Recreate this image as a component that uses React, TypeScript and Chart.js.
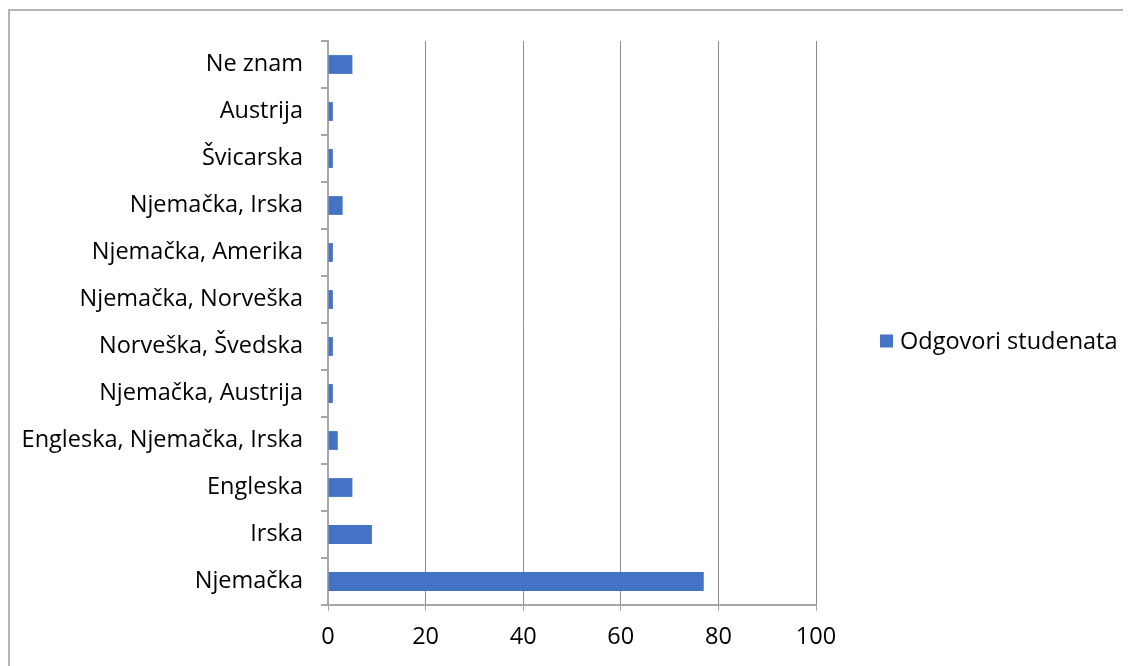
import React, { useEffect, useRef } from "react";
import { Chart, registerables } from "chart.js";

Chart.register(...registerables);

const categories: string[] = [
  "Ne znam",
  "Austrija",
  "Švicarska",
  "Njemačka, Irska",
  "Njemačka, Amerika",
  "Njemačka, Norveška",
  "Norveška, Švedska",
  "Njemačka, Austrija",
  "Engleska, Njemačka, Irska",
  "Engleska",
  "Irska",
  "Njemačka",
];

const seriesName = "Odgovori studenata";
const seriesValues: number[] = [5, 1, 1, 3, 1, 1, 1, 1, 2, 5, 9, 77];

const xMin = 0;
const xMax = 100;
const xStep = 20;

const FONT = "'Open Sans', 'Liberation Sans', sans-serif";
const FONT_SIZE = 23.5;
const BAR_COLOR = "#4472C4";
const GRID_COLOR = "#8c8c8c";
const AXIS_COLOR = "#a6a6a6";

const CANVAS_W = 1123;
const CANVAS_H = 658;

// Legend drawn to the right of the chart area (Excel-style), from the dataset itself
const sideLegend = {
  id: "sideLegend",
  afterDraw(chart: any) {
    const { ctx, chartArea } = chart;
    const ds = chart.data.datasets[0];
    const boxX = chartArea.right + 64;
    const cy = 333;
    ctx.save();
    ctx.fillStyle = ds.backgroundColor;
    ctx.fillRect(boxX, cy - 6.5, 13, 13);
    ctx.fillStyle = "#000";
    ctx.font = `${FONT_SIZE}px ${FONT}`;
    ctx.textBaseline = "middle";
    ctx.textAlign = "left";
    ctx.fillText(ds.label, boxX + 20, cy + 1);
    ctx.restore();
  },
};

export default function App() {
  const canvasRef = useRef<HTMLCanvasElement | null>(null);

  useEffect(() => {
    const canvas = canvasRef.current;
    if (!canvas) return;
    const chart = new Chart(canvas, {
      type: "bar",
      data: {
        labels: categories,
        datasets: [
          {
            label: seriesName,
            data: seriesValues,
            backgroundColor: BAR_COLOR,
            borderWidth: 0,
            categoryPercentage: 1,
            barPercentage: 0.4,
          },
        ],
      },
      options: {
        indexAxis: "y",
        responsive: false,
        animation: false,
        layout: {
          padding: { left: 0, top: 33, right: 315, bottom: 0 },
        },
        plugins: {
          legend: { display: false },
          tooltip: { enabled: false },
        },
        scales: {
          x: {
            min: xMin,
            max: xMax,
            afterFit: (scale: any) => {
              scale.height = 61;
            },
            ticks: {
              stepSize: xStep,
              color: "#000",
              padding: 12,
              font: { family: FONT, size: FONT_SIZE },
            },
            grid: {
              color: GRID_COLOR,
              lineWidth: 1,
              drawTicks: true,
              tickLength: 6,
              tickColor: AXIS_COLOR,
            },
            border: { display: true, color: AXIS_COLOR, width: 2 },
          },
          y: {
            afterFit: (scale: any) => {
              scale.width = 320;
            },
            ticks: {
              color: "#000",
              padding: 18,
              font: { family: FONT, size: FONT_SIZE },
            },
            grid: {
              offset: true,
              drawOnChartArea: false,
              drawTicks: true,
              tickLength: 7,
              color: AXIS_COLOR,
              lineWidth: 2,
            },
            border: { display: true, color: AXIS_COLOR, width: 2 },
          },
        },
      },
      plugins: [sideLegend],
    });
    return () => chart.destroy();
  }, []);

  return (
    <div
      style={{
        position: "relative",
        width: 1123,
        height: 658,
        overflow: "hidden",
        background: "#fff",
      }}
    >
      <div
        style={{
          position: "absolute",
          left: 0,
          top: 1,
          width: 2000,
          height: 2000,
          borderLeft: "2px solid #b4b4b4",
          borderTop: "2px solid #b4b4b4",
        }}
      />
      <canvas
        ref={canvasRef}
        width={CANVAS_W}
        height={CANVAS_H}
        style={{ position: "absolute", left: 0, top: 0, width: CANVAS_W, height: CANVAS_H }}
      />
    </div>
  );
}
